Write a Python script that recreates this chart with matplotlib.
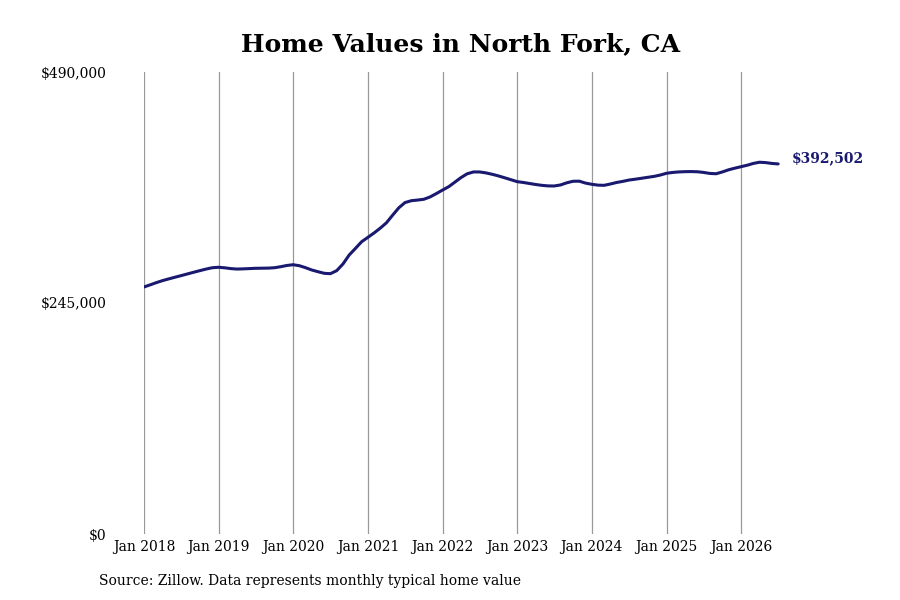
import matplotlib
matplotlib.use("Agg")
import matplotlib.pyplot as plt
import numpy as np
import pandas as pd

# monthly typical home value, Jan 2018 .. Jul 2026
values_2018 = [262000, 264300, 266500, 268700, 270500, 272300, 274000, 275800, 277600, 279300, 281000, 282400]
values_2019 = [282900, 282300, 281500, 281000, 281200, 281500, 281800, 281900, 282000, 282400, 283500, 284800]
values_2020 = [285600, 284500, 282500, 280000, 278200, 276500, 276100, 279300, 286500, 295900, 303000, 310000]
values_2021 = [314700, 319500, 324200, 330000, 338000, 346000, 351500, 353500, 354200, 355000, 357500, 361000]
values_2022 = [364800, 368500, 373000, 378000, 382000, 384000, 384000, 383000, 381500, 379800, 377800, 375800]
values_2023 = [373700, 372800, 371800, 370700, 369800, 369200, 369100, 370200, 372500, 374100, 374200, 372200]
values_2024 = [370900, 370000, 369800, 371200, 372800, 374000, 375400, 376300, 377300, 378300, 379300, 380700]
values_2025 = [382600, 383500, 384000, 384300, 384400, 384200, 383500, 382400, 382100, 384000, 386300, 388000]
values_2026 = [389600, 391200, 393000, 394300, 393900, 393000, 392502]

values = (values_2018 + values_2019 + values_2020 + values_2021 + values_2022
          + values_2023 + values_2024 + values_2025 + values_2026)
dates = pd.date_range("2018-01-01", periods=len(values), freq="MS")

years = list(range(2018, 2027))
tick_dates = [pd.Timestamp(f"{y}-01-01") for y in years]
tick_labels = [f"Jan {y}" for y in years]

y_ticks = [0, 245000, 490000]
y_labels = ["$0", "$245,000", "$490,000"]

line_color = "#191970"

plt.rcParams['font.family'] = ['DejaVu Serif']

fig = plt.figure(figsize=(9, 6), dpi=100)
ax = fig.add_axes([144 / 900, 66 / 600, (790 - 144) / 900, 462 / 600])

ax.plot(dates, values, color=line_color, linewidth=2.2, solid_capstyle="round")

# vertical grid at each January
for d in tick_dates:
    ax.axvline(d, color="#999999", linewidth=0.9, zorder=0)

ax.set_xlim(pd.Timestamp("2018-01-01"), pd.Timestamp("2026-08-28"))
ax.set_ylim(0, 490000)

ax.set_xticks(tick_dates)
ax.set_xticklabels(tick_labels, fontsize=10)
ax.set_yticks(y_ticks)
ax.set_yticklabels(y_labels, fontsize=10)
ax.tick_params(axis="both", length=0)
ax.tick_params(axis="y", pad=27)
ax.tick_params(axis="x", pad=4)

for s in ax.spines.values():
    s.set_visible(False)

ax.annotate(f"${values[-1]:,}", xy=(dates[-1], values[-1]), xytext=(10, 4),
            textcoords="offset points", fontsize=10, fontweight="bold",
            color=line_color, va="center", ha="left")

fig.suptitle("Home Values in North Fork, CA", x=461 / 900, y=1 - 44 / 600,
             fontsize=18, fontweight="bold", va="center")
fig.text(99 / 900, 1 - 581 / 600, "Source: Zillow. Data represents monthly typical home value",
         fontsize=10, ha="left", va="center")

fig.savefig("out.png", dpi=100)
